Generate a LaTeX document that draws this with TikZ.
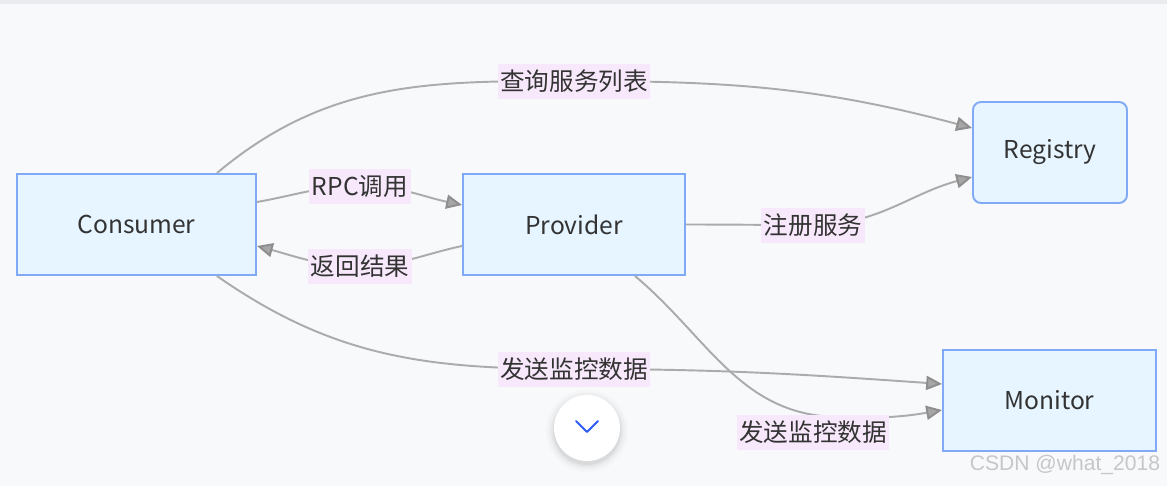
\documentclass[tikz,border=0pt]{standalone}
\usepackage{fontspec}
\setmainfont{Noto Sans CJK SC}
\newfontfamily\markfont{Liberation Sans}
\usetikzlibrary{arrows.meta, positioning}
\definecolor{pageBg}{HTML}{F8F9FB}
\definecolor{topBar}{HTML}{E9EBEF}
\definecolor{boxFill}{HTML}{E6F5FF}
\definecolor{boxLine}{HTML}{80AAF6}
\definecolor{edgeGray}{HTML}{ABABAB}
\definecolor{tipLine}{HTML}{8E8E8E}
\definecolor{tipFill}{HTML}{A6A6A6}
\definecolor{lblFill}{HTML}{F7E9FB}
\definecolor{txtDark}{HTML}{333333}
\definecolor{chevBlue}{HTML}{2F5BF5}

\begin{document}
\begin{tikzpicture}[
  every node/.style={font=\fontsize{14}{16}\selectfont, text=txtDark},
  svc/.style={draw=boxLine, fill=boxFill, line width=1.1pt,
              minimum height=2.02cm, inner sep=0pt},
  lbl/.style={fill=lblFill, inner xsep=1.5pt, inner ysep=0pt,
              minimum height=0.7cm},
  flow/.style={draw=edgeGray, line width=1.1pt,
               -{Triangle[length=9pt, width=8pt, color=tipLine, fill=tipFill]}},
]

% page
\useasboundingbox (0,0) rectangle (23.34,-9.72);
\fill[pageBg] (0,0) rectangle (23.34,-9.72);
\fill[topBar] (0,0) rectangle (23.34,-0.08);

% Services
\node[svc, minimum width=4.78cm] (consumer) at (2.73,-4.49) {Consumer};
\node[svc, minimum width=4.44cm] (provider) at (11.48,-4.49) {Provider};
\node[svc, minimum width=3.08cm, rounded corners=0.16cm] (registry) at (21.0,-3.05) {Registry};
\node[svc, minimum width=4.26cm] (monitor) at (20.99,-8.01) {Monitor};

% label anchors
\coordinate (query) at (11.48,-1.62);
\coordinate (rpc) at (7.2,-3.72);
\coordinate (ret) at (7.2,-5.32);
\coordinate (reg) at (16.26,-4.5);
\coordinate (mon1) at (11.48,-7.38);
\coordinate (mon2) at (16.26,-8.64);
\coordinate (mon2top) at (16.7,-8.34);

% Edges
\draw[flow] ([xshift=-0.8cm]consumer.north east) to[out=40,in=180] (query)
  to[out=0,in=165] ([yshift=0.49cm]registry.west);
\draw[flow] ([yshift=0.45cm]consumer.east) to[out=10,in=180] (rpc)
  to[out=0,in=168] ([yshift=0.39cm]provider.west);
\draw[flow] ([yshift=-0.43cm]provider.west) to[out=192,in=0] (ret)
  to[out=180,in=-15] ([yshift=-0.43cm]consumer.east);
\draw[flow] (provider.east) to[out=0,in=180] (reg)
  to[out=0,in=195] ([yshift=-0.49cm]registry.west);
\draw[flow] ([xshift=-0.8cm]consumer.south east) to[out=-35,in=180] (mon1)
  to[out=0,in=176] ([yshift=0.33cm]monitor.west);
\draw[flow] ([xshift=-1.02cm]provider.south east) to[out=-40,in=178] (mon2top)
  to[out=-2,in=190] ([yshift=-0.19cm]monitor.west);

% Edge labels
\node[lbl] (queryLbl) at (query) {查询服务列表};
\node[lbl] (rpcLbl) at (rpc) {RPC调用};
\node[lbl] (retLbl) at (ret) {返回结果};
\node[lbl] (regLbl) at (reg) {注册服务};
\node[lbl] (mon1Lbl) at (mon1) {发送监控数据};
\node[lbl] (mon2Lbl) at (mon2) {发送监控数据};

% scroll button
\foreach \r/\o in {0.82/0.015, 0.77/0.025, 0.72/0.035, 0.68/0.05}
  \fill[black, opacity=\o] (11.74,-8.62) circle (\r);
\node[circle, fill=white, minimum size=1.32cm, inner sep=0pt] (more) at (11.74,-8.56) {};
\draw[chevBlue, line width=1.1pt, line cap=round, line join=round]
  ([xshift=-0.22cm, yshift=0.14cm]more.center) -- ([yshift=-0.08cm]more.center)
  -- ([xshift=0.22cm, yshift=0.14cm]more.center);

% watermark
\node[font=\markfont\fontsize{12}{14}\selectfont, text=black!22] (mark) at (21.3,-9.3) {CSDN @what\_2018};
\end{tikzpicture}
\end{document}
